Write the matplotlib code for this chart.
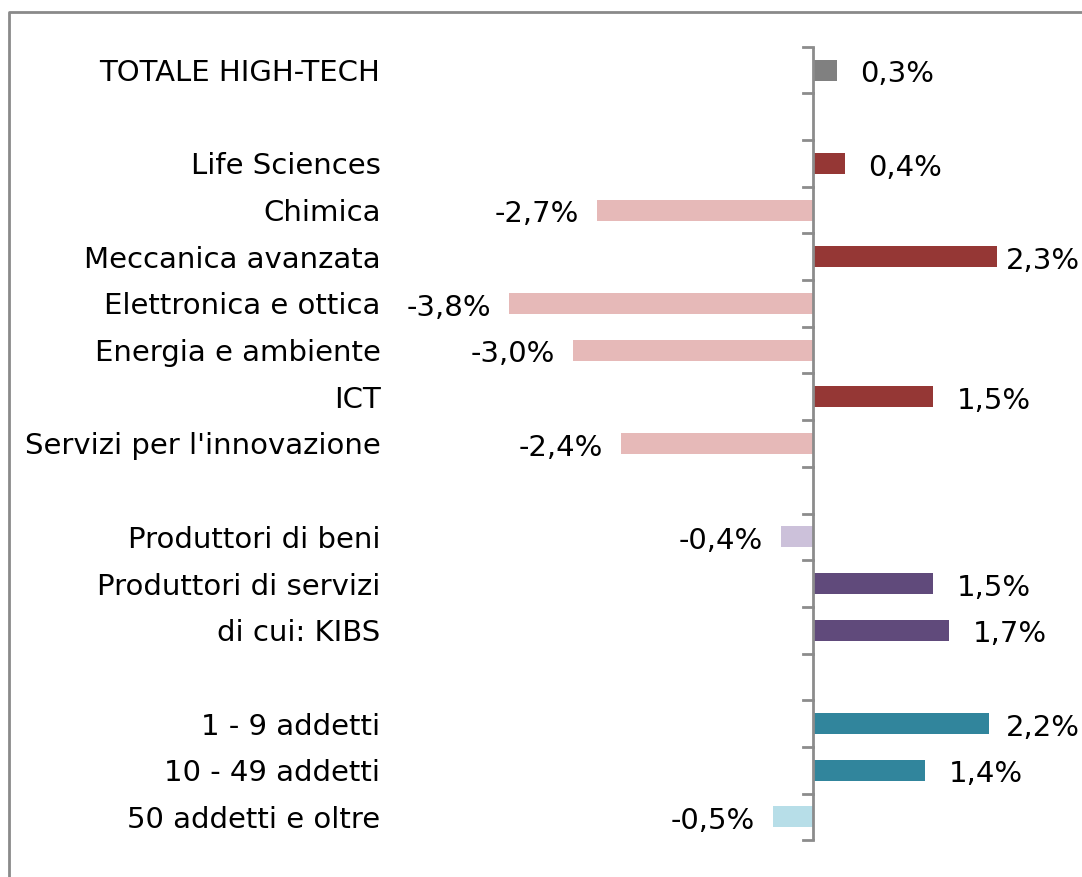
import matplotlib
matplotlib.use("Agg")
import matplotlib.pyplot as plt
from matplotlib.lines import Line2D

# categories top to bottom, blank strings are the gaps between groups
categories = ["TOTALE HIGH-TECH", "",
              "Life Sciences", "Chimica", "Meccanica avanzata",
              "Elettronica e ottica", "Energia e ambiente", "ICT",
              "Servizi per l'innovazione", "",
              "Produttori di beni", "Produttori di servizi", "di cui: KIBS", "",
              "1 - 9 addetti", "10 - 49 addetti", "50 addetti e oltre"]
values = [0.3, None,
          0.4, -2.7, 2.3, -3.8, -3.0, 1.5, -2.4, None,
          -0.4, 1.5, 1.7, None,
          2.2, 1.4, -0.5]
colors = ["#808080", None,
          "#953735", "#E6B9B8", "#953735", "#E6B9B8", "#E6B9B8", "#953735", "#E6B9B8", None,
          "#CCC1DA", "#604A7B", "#604A7B", None,
          "#31859C", "#31859C", "#B7DEE8"]

W, H = 1082, 877
fig = plt.figure(figsize=(W / 100, H / 100), dpi=100)
fig.patch.set_facecolor("white")

# outer chart border (only top and left visible in the crop)
bx, by = 8.5 / W, 1 - 11.5 / H
fig.add_artist(Line2D([bx, bx, 1.05], [-0.05, by, by], transform=fig.transFigure,
                      color="#8a8a8a", lw=2))

ax = fig.add_axes([395 / W, 1 - 840.3 / H, 1 - 395 / W, (840.3 - 46.7) / H])
n = len(categories)
ax.set_ylim(n - 0.5, -0.5)
ax.set_xlim((395 - 813) / 80, (W - 813) / 80)

for i, (v, c) in enumerate(zip(values, colors)):
    if v is None:
        continue
    ax.barh(i, v, height=0.45, color=c)

for s in ax.spines.values():
    s.set_visible(False)
ax.set_xticks([])
ax.set_yticks(range(n))
ax.set_yticklabels(categories, fontsize=21)
ax.tick_params(axis="y", length=0, pad=10.5)

# category axis at zero with ticks between categories
axis_col = "#8c8c8c"
ax.plot([0, 0], [-0.5, n - 0.5], color=axis_col, lw=2, clip_on=False, solid_capstyle="butt")
tick_len = 10 / 80
for b in range(n + 1):
    ax.plot([-tick_len, 0], [b - 0.5, b - 0.5], color=axis_col, lw=2, clip_on=False)

fig.canvas.draw()
renderer = fig.canvas.get_renderer()
for i, v in enumerate(values):
    if v is None:
        continue
    lab = f"{v:.1f}%".replace(".", ",")
    if v >= 0:
        t = ax.annotate(lab, (v, i), xytext=(17, -3), textcoords="offset points",
                        ha="left", va="center", fontsize=21)
        bb = t.get_window_extent(renderer)
        if bb.x1 > W - 2:
            t.set_position((17 - (bb.x1 - W + 2) * 0.72, -3))
    else:
        ax.annotate(lab, (v, i), xytext=(-13, -3), textcoords="offset points",
                    ha="right", va="center", fontsize=21)

fig.savefig("out.png", dpi=100)
